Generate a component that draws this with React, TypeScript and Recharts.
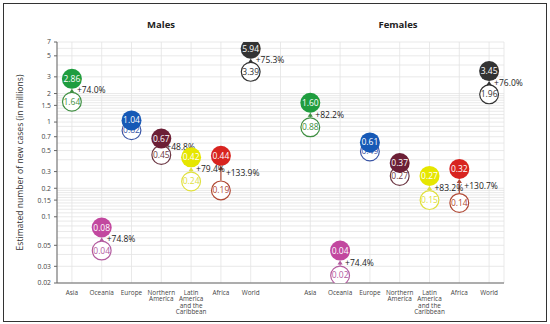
import React from 'react';
import { ComposedChart, Scatter, XAxis, YAxis, CartesianGrid, ReferenceLine } from 'recharts';

// ---- data ----
const regions = ['Asia', 'Oceania', 'Europe', 'Northern America', 'Latin America and the Caribbean', 'Africa', 'World'];
const regionTickLines = [['Asia'], ['Oceania'], ['Europe'], ['Northern', 'America'], ['Latin', 'America', 'and the', 'Caribbean'], ['Africa'], ['World']];
const males2050 = [2.86, 0.077, 1.04, 0.67, 0.424, 0.44, 5.94];
const males2020 = [1.64, 0.044, 0.82, 0.45, 0.236, 0.19, 3.39];
const malesGrowth: (number | null)[] = [74.0, 74.8, null, 48.8, 79.4, 133.9, 75.3];
const females2050 = [1.6, 0.044, 0.61, 0.37, 0.27, 0.32, 3.45];
const females2020 = [0.88, 0.024, 0.49, 0.27, 0.15, 0.14, 1.96];
const femalesGrowth: (number | null)[] = [82.2, 74.4, null, null, 83.2, 130.7, 76.0];
const panelTitles = ['Males', 'Females'];
const yLabel = 'Estimated number of new cases (in millions)';
const yTicks = [0.02, 0.03, 0.05, 0.1, 0.15, 0.2, 0.3, 0.5, 0.7, 1, 1.5, 2, 3, 5, 7];
const yGrid = [0.02, 0.03, 0.04, 0.05, 0.06, 0.07, 0.08, 0.09, 0.1, 0.11, 0.12, 0.13, 0.14, 0.15, 0.16, 0.17, 0.18, 0.19, 0.2, 0.3, 0.4, 0.5, 0.6, 0.7, 0.8, 0.9, 1, 1.1, 1.2, 1.3, 1.4, 1.5, 1.6, 1.7, 1.8, 1.9, 2, 3, 4, 5, 6, 7];

// ---- styles ----
const fillColors = ['#1f9d3f', '#c2489f', '#1659b6', '#6c1f36', '#e6e600', '#d82420', '#333333'];
const lineColors = ['#3f8f42', '#b35c9f', '#3b56a6', '#6e3a46', '#e0e040', '#b04a36', '#333333'];
const FONT = '"Open Sans", "Noto Sans", sans-serif';
const R = 10;

type Row = { key: string; region: number; v2050: number | null; v2020: number | null; growth: number | null };
const rows: Row[] = [
  ...regions.map((_, i) => ({ key: `m${i}`, region: i, v2050: males2050[i], v2020: males2020[i], growth: malesGrowth[i] })),
  { key: 'gap', region: -1, v2050: null, v2020: null, growth: null },
  ...regions.map((_, i) => ({ key: `f${i}`, region: i, v2050: females2050[i], v2020: females2020[i], growth: femalesGrowth[i] })),
];

const FilledDot = (props: any) => {
  const { cx, cy, payload } = props;
  if (!payload || payload.v2050 == null || !isFinite(cy)) return <g />;
  return (
    <g>
      <circle cx={cx} cy={cy} r={R} fill={fillColors[payload.region]} />
      <text x={cx} y={cy} dy="0.35em" textAnchor="middle" fill="#fff" fontSize={8.5} fontFamily={FONT}>
        {payload.v2050.toFixed(2)}
      </text>
    </g>
  );
};

const OutlineDot = (props: any) => {
  const { cx, cy, payload } = props;
  if (!payload || payload.v2020 == null || !isFinite(cy)) return <g />;
  const c = lineColors[payload.region];
  return (
    <g>
      <circle cx={cx} cy={cy} r={R - 0.6} fill="#fff" stroke={c} strokeWidth={1.2} />
      <text x={cx} y={cy} dy="0.35em" textAnchor="middle" fill={c} fontSize={8.5} fontFamily={FONT}>
        {payload.v2020.toFixed(2)}
      </text>
    </g>
  );
};

const GrowthLabel = (props: any) => {
  const { cx, cy, payload } = props;
  if (!payload || payload.growth == null || !isFinite(cy)) return <g />;
  return (
    <text x={cx + 5} y={cy} dy="0.35em" textAnchor="start" fill="#222" fontSize={8.5} fontFamily={FONT}>
      {`+${payload.growth.toFixed(1)}%`}
    </text>
  );
};

const makeArrow = (row: Row) => (props: any) => {
  const { x1, y1, x2, y2 } = props;
  if (![x1, y1, x2, y2].every((v) => typeof v === 'number' && isFinite(v))) return <g />;
  const c = lineColors[row.region];
  const bottom = Math.max(y1, y2) - R;
  const top = Math.min(y1, y2) + R;
  if (bottom - top < 2) return <g />;
  const x = x1;
  return (
    <g>
      <line x1={x} y1={bottom} x2={x} y2={top + 3} stroke={c} strokeWidth={1.2} />
      <polygon points={`${x},${top} ${x - 2.6},${top + 4} ${x + 2.6},${top + 4}`} fill={c} />
    </g>
  );
};

const XTick = (p: any) => {
  const { x, y, payload } = p;
  const row = rows.find((r) => r.key === payload.value);
  if (!row || row.region < 0) return <g />;
  const lines = regionTickLines[row.region];
  return (
    <text x={x} y={y} textAnchor="middle" fontSize={6.4} fill="#444" fontFamily={FONT}>
      {lines.map((l, i) => (
        <tspan key={i} x={x} dy={i === 0 ? '0.6em' : 6.4}>
          {l}
        </tspan>
      ))}
    </text>
  );
};

const YLabel = (p: any) => {
  const vb = p.viewBox || { x: 0, y: 42, width: 57, height: 241 };
  const x = vb.x + 20;
  const y = vb.y + vb.height / 2;
  return (
    <text x={x} y={y} transform={`rotate(-90 ${x} ${y})`} textAnchor="middle" dominantBaseline="central" fontSize={8.6} fill="#333" fontFamily={FONT}>
      {yLabel}
    </text>
  );
};

export default function App() {
  const titleCenters = [161, 398];
  return (
    <div style={{ position: 'absolute', left: 0, top: 0, width: 550, height: 324, background: '#fff' }}>
      <div style={{ position: 'absolute', left: 3, top: 3, width: 542, height: 317, border: '1px solid #333', boxSizing: 'content-box' }} />
      {panelTitles.map((t, i) => (
        <div
          key={t}
          style={{ position: 'absolute', left: titleCenters[i] - 40, width: 80, top: 18, textAlign: 'center', fontFamily: FONT, fontWeight: 700, fontSize: 9.5, color: '#222', lineHeight: '14px' }}
        >
          {t}
        </div>
      ))}
      <div style={{ position: 'absolute', left: 0, top: 0 }}>
        <ComposedChart width={550} height={324} data={rows} margin={{ top: 42, right: 46, left: 0, bottom: 0 }}>
          <CartesianGrid stroke="#e3e3e3" strokeWidth={0.8} horizontalValues={yGrid} />
          <XAxis dataKey="key" type="category" scale="band" interval={0} tick={<XTick />} tickLine={false} height={41} axisLine={{ stroke: '#666' }} />
          <YAxis
            type="number"
            scale="log"
            domain={[0.02, 7]}
            ticks={yTicks}
            allowDataOverflow
            interval={0}
            width={57}
            tickSize={3}
            tickMargin={3}
            tick={{ fontSize: 6.8, fill: '#444', fontFamily: FONT }}
            tickFormatter={(v: number) => String(v)}
            axisLine={{ stroke: '#666' }}
            tickLine={{ stroke: '#666' }}
            label={<YLabel />}
          />
          <YAxis yAxisId="right" orientation="right" width={0} tick={false} tickLine={false} domain={[0, 1]} axisLine={{ stroke: '#666' }} />
          <Scatter
            dataKey={(r: Row) => (r.v2050 != null && r.v2020 != null ? Math.sqrt(r.v2050 * r.v2020) : null)}
            shape={<GrowthLabel />}
            isAnimationActive={false}
          />
          {rows
            .filter((r) => r.v2050 != null && r.v2020 != null)
            .map((r) => (
              <ReferenceLine
                key={`arrow-${r.key}`}
                segment={[
                  { x: r.key, y: r.v2020 as number },
                  { x: r.key, y: r.v2050 as number },
                ]}
                ifOverflow="visible"
                shape={makeArrow(r)}
              />
            ))}
          <Scatter dataKey="v2020" shape={<OutlineDot />} isAnimationActive={false} />
          <Scatter dataKey="v2050" shape={<FilledDot />} isAnimationActive={false} />
        </ComposedChart>
      </div>
    </div>
  );
}
